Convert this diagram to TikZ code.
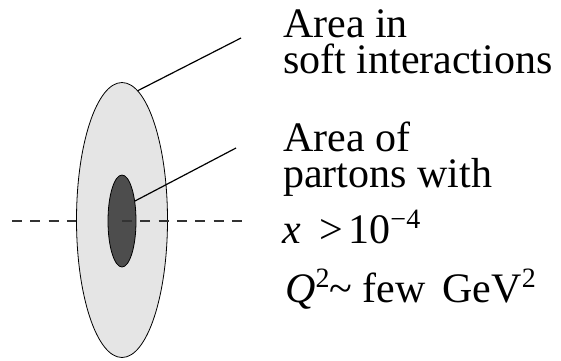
\documentclass[tikz,border=0pt]{standalone}
\usepackage{fontspec}
\setmainfont{Liberation Serif}
\usetikzlibrary{shapes.geometric}
\definecolor{diskgray}{HTML}{E5E5E5}
\definecolor{coregray}{HTML}{4D4D4D}
\definecolor{axisgray}{HTML}{333333}
\newcommand{\supx}[1]{\raisebox{15pt}{\fontsize{28}{28}\selectfont #1}}
\begin{document}
\begin{tikzpicture}[x=1pt, y=-1pt,
		lbl/.style={anchor=base west, inner sep=0pt, font=\fontsize{42}{36}\selectfont},
		axis/.style={draw=axisgray, line width=1.3pt, dash pattern=on 10pt off 8.3pt},
		pointer/.style={line width=1.2pt}]
		
		\useasboundingbox (0,0) rectangle (561,360);
		
		% Eje, parte de atras
		\coordinate (hub) at (122,221);
		\coordinate (axisL) at (12,221);
		\coordinate (axisR) at (242,221);
		\draw[axis] (axisL) -- (hub);
		
		% Disco y nucleo
		\node[ellipse, draw, fill=diskgray, line width=0.8pt, inner sep=0pt, minimum width=91pt, minimum height=275pt] (disk) at (122,220) {};
		\node[ellipse, draw, fill=coregray, line width=0.8pt, inner sep=0pt, minimum width=28pt, minimum height=92pt] (core) at (122,221) {};
		
		% Eje, parte de delante
		\draw[axis] (hub) -- (axisR);
		
		% Textos
		\node[lbl] (soft1) at (283,37) {Area in};
		\node[lbl] (soft2) at (283,73) {soft interactions};
		\node[lbl] (part1) at (283,151) {Area of};
		\node[lbl] (part2) at (283,187) {partons with};
		\node[lbl] (part3) at (282,243) {\textit{x}\hspace{0.45em}>\hspace{0.12em}10\supx{−4}};
		\node[lbl] (part4) at (285,302) {\textit{Q}\supx{2}\textasciitilde\ few\hspace{0.4em}GeV\supx{2}};
		
		% Lineas hacia los textos
		\coordinate (tip1) at (241,38);
		\coordinate (tip2) at (236,148);
		\draw[pointer] (disk.83) -- (tip1);
		\draw[pointer] (core.57) -- (tip2);
		
	\end{tikzpicture}
\end{document}
